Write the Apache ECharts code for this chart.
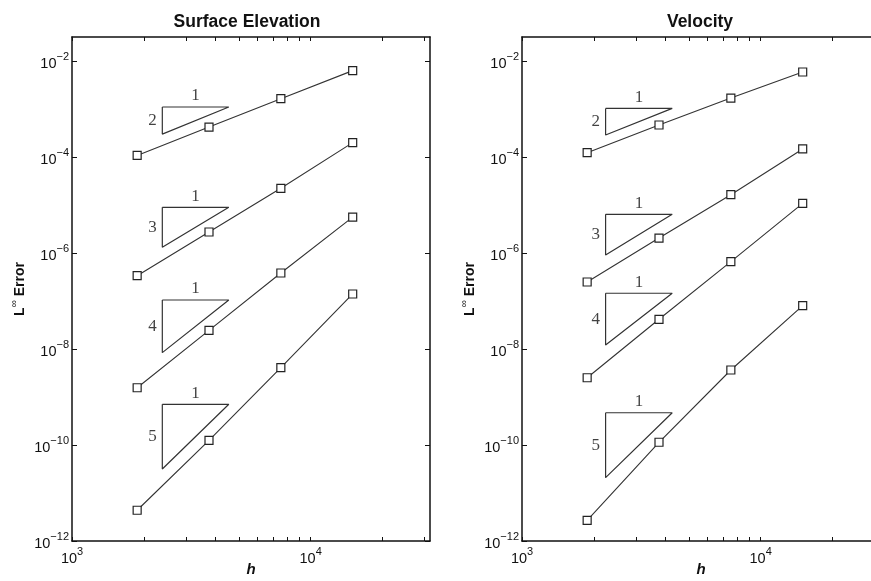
<!DOCTYPE html>
<html>
<head>
<meta charset="utf-8">
<script src="https://cdn.jsdelivr.net/npm/echarts@6/dist/echarts.min.js"></script>
<style>
  html, body { margin: 0; padding: 0; background: #fff; }
  #chart { width: 871px; height: 581px; }
</style>
</head>
<body>
<div id="chart"></div>
<script>
// grid spacing h and the L-infinity errors
const h = [1875, 3750, 7500, 15000];

const elev2 = [1.08e-4, 4.2e-4, 1.64e-3, 6.3e-3];
const elev3 = [3.37e-7, 2.74e-6, 2.23e-5, 1.99e-4];
const elev4 = [1.56e-9, 2.45e-8, 3.83e-7, 5.6e-6];
const elev5 = [4.37e-12, 1.25e-10, 4.08e-9, 1.4e-7];

const vel2 = [1.23e-4, 4.64e-4, 1.69e-3, 5.9e-3];
const vel3 = [2.49e-7, 2.05e-6, 1.64e-5, 1.47e-4];
const vel4 = [2.52e-9, 4.16e-8, 6.6e-7, 1.08e-5];
const vel5 = [2.7e-12, 1.14e-10, 3.65e-9, 8.0e-8];

// slope triangles: h range, top and bottom error of each one
const orders = ["2", "3", "4", "5"];
const elevTriH = [2390, 4540];
const elevTriTop = [1.1e-3, 8.95e-6, 1.05e-7, 7.05e-10];
const elevTriBottom = [3.0e-4, 1.32e-6, 8.4e-9, 3.16e-11];
const velTriH = [2240, 4260];
const velTriTop = [1.03e-3, 6.4e-6, 1.45e-7, 4.7e-10];
const velTriBottom = [2.87e-4, 9.1e-7, 1.21e-8, 2.09e-11];

const titles = ["Surface Elevation", "Velocity"];
const xLabelValues = [1e3, 1e4];
const xTickValues = [1e3, 2e3, 3e3, 4e3, 5e3, 6e3, 7e3, 8e3, 9e3, 1e4, 2e4, 3e4];
const yTickValues = [1e-12, 1e-10, 1e-8, 1e-6, 1e-4, 1e-2];

const ink = "#111";
const lineColor = "#333";
const font = "Liberation Sans";

let chart = echarts.init(document.getElementById("chart"));

let powLabel = function(v) {
  let e = Math.round(Math.log10(v));
  return "{b|10}{s|" + (e < 0 ? "\u2212" + -e : e) + "}";
};
let powRich = {
  b: { fontSize: 14.5, fontFamily: font, color: ink, lineHeight: 20, verticalAlign: "bottom" },
  s: { fontSize: 11, fontFamily: font, color: ink, lineHeight: 10, verticalAlign: "top" }
};

let xAxisFor = function(grid, pos) {
  let bottom = pos == "bottom";
  return {
    type: "log",
    gridIndex: grid,
    position: pos,
    min: 1e3,
    max: Math.pow(10, 4.5),
    name: bottom ? "h" : "",
    nameLocation: "middle",
    nameGap: 21,
    nameMoveOverlap: false,
    nameTextStyle: { fontFamily: font, fontSize: 15, fontWeight: "bold", fontStyle: "italic", color: ink },
    axisLine: { show: true, onZero: false, lineStyle: { color: ink, width: 1.5 } },
    axisTick: { show: true, inside: true, length: 4, customValues: xTickValues, lineStyle: { color: ink } },
    axisLabel: {
      show: bottom,
      customValues: xLabelValues,
      margin: 5,
      formatter: powLabel,
      rich: powRich
    },
    splitLine: { show: false }
  };
};

let yAxisFor = function(grid, pos) {
  let left = pos == "left";
  return {
    type: "log",
    gridIndex: grid,
    position: pos,
    min: 1e-12,
    max: Math.pow(10, -1.5),
    name: left ? "{b|L}{s|\u221e}{b| Error}" : "",
    nameLocation: "middle",
    nameGap: 45,
    nameMoveOverlap: false,
    nameRotate: 90,
    nameTextStyle: {
      rich: {
        b: { fontFamily: font, fontSize: 14, fontWeight: "bold", color: ink, lineHeight: 18, verticalAlign: "bottom" },
        s: { fontFamily: font, fontSize: 10, color: ink, lineHeight: 10, verticalAlign: "top" }
      }
    },
    axisLine: { show: true, onZero: false, lineStyle: { color: ink, width: 1.5 } },
    axisTick: { show: true, inside: true, length: 5, customValues: yTickValues, lineStyle: { color: ink } },
    axisLabel: {
      show: left,
      customValues: yTickValues,
      margin: 3,
      formatter: powLabel,
      rich: powRich
    },
    splitLine: { show: false }
  };
};

let panelSeries = function(i, errs, triH, triTop, triBottom) {
  let out = [];
  errs.forEach(function(e) {
    out.push({
      type: "line",
      xAxisIndex: i * 2,
      yAxisIndex: i * 2,
      data: h.map(function(x, k) { return [x, e[k]]; }),
      symbol: "rect",
      symbolSize: 8,
      showAllSymbol: true,
      lineStyle: { color: lineColor, width: 1.1 },
      itemStyle: { color: "#fff", borderColor: "#222", borderWidth: 1.2 },
      z: 3
    });
  });
  let labels = [];
  triTop.forEach(function(top, k) {
    let bot = triBottom[k];
    out.push({
      type: "line",
      xAxisIndex: i * 2,
      yAxisIndex: i * 2,
      data: [[triH[0], top], [triH[1], top], [triH[0], bot], [triH[0], top]],
      symbol: "none",
      lineStyle: { color: lineColor, width: 1.2 },
      z: 2
    });
    labels.push({
      value: [Math.sqrt(triH[0] * triH[1]), top],
      label: { formatter: "1", position: "top", distance: 2 }
    });
    labels.push({
      value: [triH[0], Math.sqrt(top * bot)],
      label: { formatter: orders[k], position: "left", distance: 5 }
    });
  });
  out.push({
    type: "scatter",
    xAxisIndex: i * 2,
    yAxisIndex: i * 2,
    symbolSize: 1,
    itemStyle: { color: "rgba(0,0,0,0)" },
    label: { show: true, fontFamily: "Liberation Serif", fontSize: 17, color: "#111" },
    data: labels,
    z: 4
  });
  return out;
};

let option = {
  animation: false,
  backgroundColor: "#fff",
  title: titles.map(function(t, i) {
    return {
      text: t,
      left: i == 0 ? 242 : 695,
      top: 8,
      textAlign: "center",
      textStyle: { fontFamily: font, fontSize: 17.5, fontWeight: "bold", color: ink }
    };
  }),
  grid: [
    { left: 72, top: 37, right: 441, bottom: 40, outerBoundsMode: "none" },
    { left: 522, top: 37, right: -9, bottom: 40, outerBoundsMode: "none" }
  ],
  xAxis: [xAxisFor(0, "bottom"), xAxisFor(0, "top"), xAxisFor(1, "bottom"), xAxisFor(1, "top")],
  yAxis: [yAxisFor(0, "left"), yAxisFor(0, "right"), yAxisFor(1, "left"), yAxisFor(1, "right")],
  series: panelSeries(0, [elev2, elev3, elev4, elev5], elevTriH, elevTriTop, elevTriBottom)
    .concat(panelSeries(1, [vel2, vel3, vel4, vel5], velTriH, velTriTop, velTriBottom))
};

chart.setOption(option);
</script>
</body>
</html>
